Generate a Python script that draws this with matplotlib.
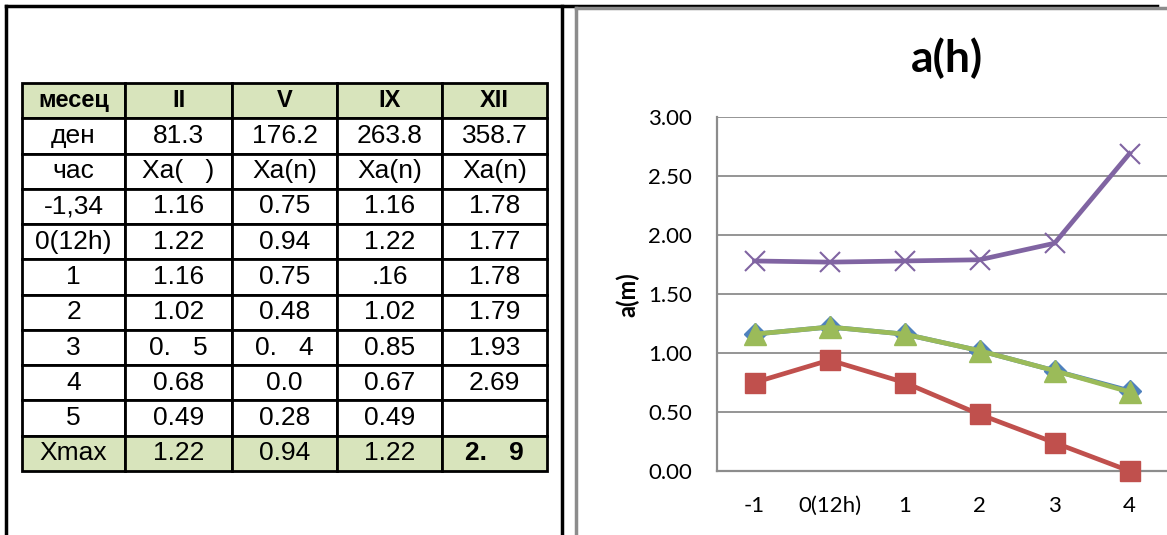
import matplotlib.pyplot as plt
from matplotlib.ticker import FormatStrFormatter

# таблица (текст като в оригинала)
months = ["II", "V", "IX", "XII"]
days = ["81.3", "176.2", "263.8", "358.7"]
units = ["Xa(   )", "Xa(n)", "Xa(n)", "Xa(n)"]
hour_rows = ["-1,34", "0(12h)", "1", "2", "3", "4", "5"]
col_II = ["1.16", "1.22", "1.16", "1.02", "0.   5", "0.68", "0.49"]
col_V = ["0.75", "0.94", "0.75", "0.48", "0.   4", "0.0", "0.28"]
col_IX = ["1.16", "1.22", ".16", "1.02", "0.85", "0.67", "0.49"]
col_XII = ["1.78", "1.77", "1.78", "1.79", "1.93", "2.69", ""]
xmax = ["1.22", "0.94", "1.22", "2.   9"]

# графика a(h)
hours = ["-1", "0(12h)", "1", "2", "3", "4"]
a_II = [1.16, 1.22, 1.16, 1.02, 0.85, 0.68]
a_V = [0.75, 0.94, 0.75, 0.48, 0.24, 0.0]
a_IX = [1.16, 1.22, 1.16, 1.02, 0.85, 0.67]
a_XII = [1.78, 1.77, 1.78, 1.79, 1.93, 2.69]

W, H = 1167, 535
fig = plt.figure(figsize=(W / 100, H / 100), dpi=100)

# фон в пиксели
bg = fig.add_axes([0, 0, 1, 1])
bg.set_xlim(0, W)
bg.set_ylim(H, 0)
bg.axis("off")

# рамки
bg.plot([6, 6], [6, H], color="black", lw=2.5)
bg.plot([6, 1157], [6, 6], color="black", lw=2.5)
bg.plot([562, 562], [6, H], color="black", lw=2.5)
bg.plot([575.5, 575.5], [7.5, H], color="#8c8c8c", lw=2.5)
bg.plot([575.5, W], [7.5, 7.5], color="#8c8c8c", lw=2.5)

# таблица
cells = [["месец"] + months, ["ден"] + days, ["час"] + units]
cols = [col_II, col_V, col_IX, col_XII]
for i, h in enumerate(hour_rows):
    cells.append([h] + [c[i] for c in cols])
cells.append(["Xmax"] + xmax)

green = "#d8e4bc"
colours = []
for r in range(len(cells)):
    if r == 0 or r == len(cells) - 1:
        colours.append([green] * 5)
    else:
        colours.append(["white"] * 5)

x0, x1, y0, y1 = 22, 547, 83, 471
tbl = bg.table(cellText=cells, cellColours=colours, cellLoc="center",
               colWidths=[103, 107, 105, 105, 105],
               bbox=[x0 / W, 1 - y1 / H, (x1 - x0) / W, (y1 - y0) / H])
tbl.auto_set_font_size(False)
for (r, c), cell in tbl.get_celld().items():
    cell.set_edgecolor("black")
    cell.set_linewidth(2)
    t = cell.get_text()
    t.set_fontfamily("Liberation Sans")
    t.set_fontsize(19)
    if r == 0:
        t.set_fontweight("bold")
        t.set_fontsize(17)
    if r == len(cells) - 1 and c == 4:
        t.set_fontweight("bold")

# графика
ax = fig.add_axes([717 / W, 1 - 471 / H, (W - 717) / W, (471 - 117) / H])
x = range(len(hours))
ax.plot(x, a_II, color="#4f81bd", lw=3.4, marker="D", ms=11, clip_on=False, zorder=3)
ax.plot(x, a_V, color="#c0504d", lw=3.4, marker="s", ms=14.5, clip_on=False, zorder=3)
ax.plot(x, a_IX, color="#9bbb59", lw=3.4, marker="^", ms=16, clip_on=False, zorder=4)
ax.plot(x, a_XII, color="#8064a2", lw=3.4, marker="x", ms=14, mew=1.5,
        clip_on=False, zorder=5)

ax.set_xlim(-0.5, len(hours) - 0.5)
ax.set_ylim(0, 3)
ax.set_xticks(list(x))
ax.set_xticklabels(hours)
ax.set_yticks([0, 0.5, 1, 1.5, 2, 2.5, 3])
ax.yaxis.set_major_formatter(FormatStrFormatter("%.2f"))
ax.grid(axis="y", color="#8c8c8c", lw=1.3)
ax.set_axisbelow(True)
for s in ["top", "right"]:
    ax.spines[s].set_visible(False)
for s in ["left", "bottom"]:
    ax.spines[s].set_color("#8c8c8c")
    ax.spines[s].set_linewidth(1.6)
ax.tick_params(axis="both", length=0, labelsize=16)
ax.tick_params(axis="x", pad=18)
ax.tick_params(axis="y", pad=18)
for lab in ax.get_xticklabels() + ax.get_yticklabels():
    lab.set_fontfamily("Lato")

fig.text(947 / W, 1 - 58 / H, "a(h)", ha="center", va="center",
         fontsize=32, fontweight="bold", family="Lato")
fig.text(628 / W, 1 - 295 / H, "a(m)", ha="center", va="center", rotation=90,
         fontsize=17, fontweight="bold", family="Lato")

fig.savefig("out.png", dpi=100)
